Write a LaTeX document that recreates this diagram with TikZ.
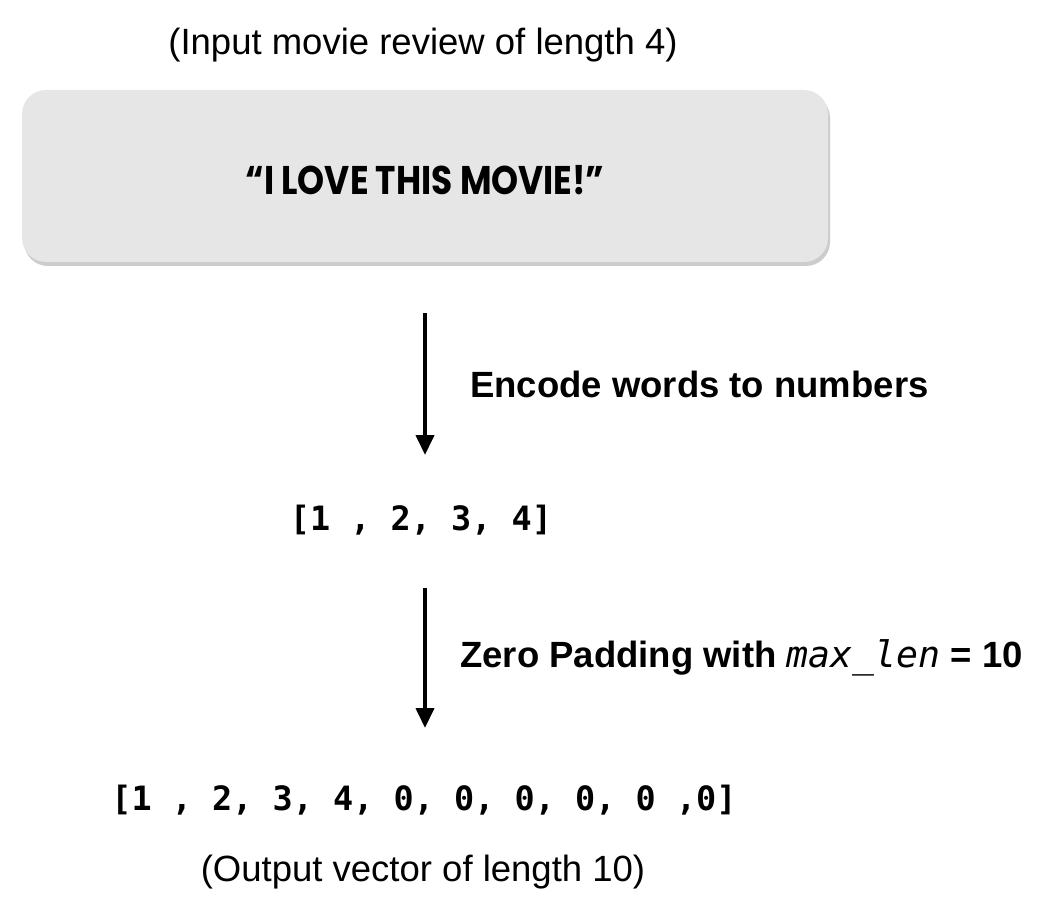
\documentclass[tikz,border=0pt]{standalone}
\usepackage{fontspec}
\setmainfont{Liberation Sans}
\newfontfamily\monofont{DejaVu Sans Mono}
\newfontfamily\boxfont{Poppins}
\usetikzlibrary{arrows.meta,shadows}
\definecolor{boxgray}{HTML}{E6E6E6}
\tikzset{
  plain/.style={font=\fontsize{36.5}{42}\selectfont, inner sep=0pt},
  bold/.style={font=\fontsize{36.5}{42}\selectfont\bfseries, inner sep=0pt, anchor=west},
  vec/.style={font=\fontsize{33.5}{40}\selectfont\monofont\bfseries, inner sep=0pt},
  flow/.style={line width=4pt, -{Triangle[width=18pt,length=20pt]}},
  inbox/.style={draw=none, fill=boxgray, rounded corners=24pt, minimum width=806pt, minimum height=172pt,
    drop shadow={shadow xshift=2pt, shadow yshift=-4pt, fill=black!40}},
}
\begin{document}
\begin{tikzpicture}[x=1pt,y=1pt]
\useasboundingbox (0,0) rectangle (1041,-909);
\node[plain] (title) at (423,-45) {(Input movie review of length 4)};
\node[inbox] (box) at (425,-176) {};
\node[font=\fontsize{40}{46}\selectfont\boxfont\bfseries, inner sep=0pt] (quote) at (425,-180) {\scalebox{0.86}[1]{“I LOVE THIS MOVIE!”}};
\coordinate (a1s) at (425,-313);
\coordinate (a1e) at (425,-455);
\draw[flow] (a1s) -- (a1e);
\node[bold] (enc) at (470,-384) {Encode words to numbers};
\node[vec] (vec1) at (421,-520) {[1 , 2, 3, 4]};
\coordinate (a2s) at (425,-588);
\coordinate (a2e) at (425,-728);
\draw[flow] (a2s) -- (a2e);
\node[bold] (zp) at (460,-658) {Zero Padding with {\monofont\mdseries\itshape max\_len} = 10};
\node[vec] (vec2) at (424,-800) {[1 , 2, 3, 4, 0, 0, 0, 0, 0 ,0]};
\node[plain] (out) at (423,-872) {(Output vector of length 10)};
\end{tikzpicture}
\end{document}
